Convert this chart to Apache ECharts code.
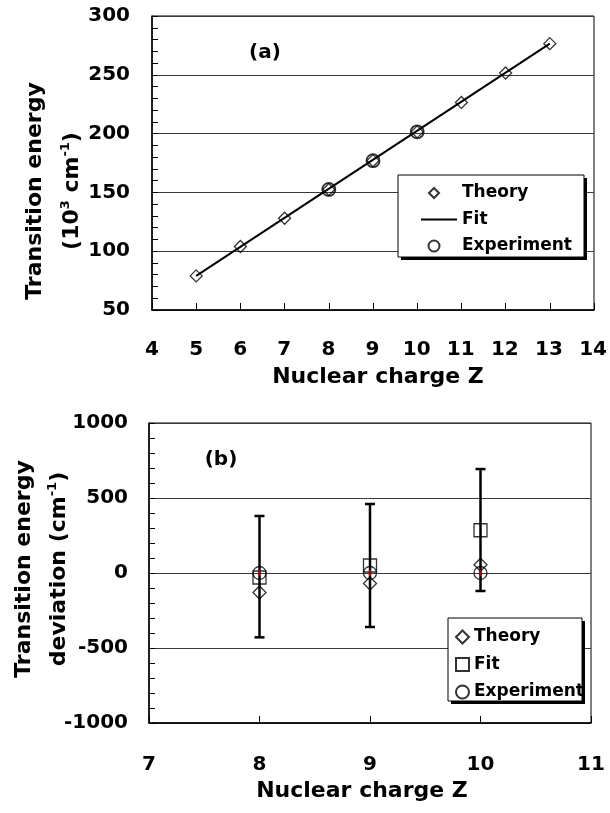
<!DOCTYPE html>
<html><head><meta charset="utf-8">
<script src="https://cdn.jsdelivr.net/npm/echarts@6/dist/echarts.min.js"></script>
<style>html,body{margin:0;padding:0;background:#fff}#a{width:610px;height:400px}#b{width:610px;height:413px}</style>
</head><body><div id="a"></div><div id="b"></div>
<script>
// ---- Panel (a) data ----
const zA = [5, 6, 7, 8, 9, 10, 11, 12, 13];
const theoryA = [79, 104, 128, 152.5, 177, 201.5, 226.5, 251.5, 276.5];
const fitAZ = [5, 13];
const fitA = [79, 276.5];
const expAZ = [8, 9, 10];
const expA = [152.5, 177, 201.5];
const xRangeA = [4, 14];
const yRangeA = [50, 300];

// ---- Panel (b) data ----
const zB = [8, 9, 10];
const theoryB = [-130, -70, 55];
const fitB = [-30, 50, 285];
const expB = [0, 0, 0];
const errLowB = [-429, -360, -120];
const errHighB = [380, 460, 693];
const xRangeB = [7, 11];
const yRangeB = [-1000, 1000];

const legendNames = ['Theory', 'Fit', 'Experiment'];

const F = 'DejaVu Sans';
const K = '#000';
const pairs = (xs, ys) => xs.map((x, i) => [x, ys[i]]);

const labelStyle = { color: K, fontFamily: F, fontWeight: 'bold', fontSize: 20,
  showMinLabel: true, showMaxLabel: true, hideOverlap: false, formatter: v => String(v) };

function xAxis(r, label, gi) {
  return {
    gridIndex: gi || 0, type: 'value', position: 'bottom', min: r[0], max: r[1], interval: 1,
    axisLine: { show: true, onZero: false, lineStyle: { color: K, width: 1.5 } },
    axisTick: { show: true, inside: true, length: 7, lineStyle: { color: K, width: 1 } },
    splitLine: { show: false },
    axisLabel: Object.assign({}, labelStyle, label)
  };
}
function yAxis(r, interval, margin) {
  return {
    type: 'value', min: r[0], max: r[1], interval: interval,
    axisLine: { show: true, onZero: false, lineStyle: { color: K, width: 1.5 } },
    axisTick: { show: true, inside: true, length: 6, lineStyle: { color: K, width: 1 } },
    minorTick: { show: true, splitNumber: 5, length: 6, lineStyle: { color: K, width: 1 } },
    splitLine: { show: true, lineStyle: { color: '#3a3a3a', width: 1 } },
    minorSplitLine: { show: false },
    axisLabel: Object.assign({ margin: margin }, labelStyle)
  };
}
const hollow = (w) => ({ color: 'transparent', borderColor: K, borderWidth: w });

function txt(x, y, text, size, rot) {
  return {
    type: 'text', x: x, y: y, rotation: rot || 0, z: 20,
    style: {
      text: text, fontFamily: F, fontWeight: 'bold', fontSize: size, fill: K,
      align: 'center', verticalAlign: 'middle',
      rich: {
        m: { fontFamily: F, fontWeight: 'bold', fontSize: size, lineHeight: 26, fill: K },
        s: { fontFamily: F, fontWeight: 'bold', fontSize: 13, lineHeight: 13, verticalAlign: 'top', fill: K }
      }
    }
  };
}
function box(x1, y1, x2, y2) {
  return [
    { type: 'rect', z: 5, shape: { x: x1 + 3, y: y1 + 3, width: x2 - x1, height: y2 - y1 }, style: { fill: K } },
    { type: 'rect', z: 6, shape: { x: x1, y: y1, width: x2 - x1, height: y2 - y1 }, style: { fill: '#fff', stroke: K, lineWidth: 1 } }
  ];
}
const legendText = { fontFamily: F, fontWeight: 'bold', fontSize: 17, color: K };

// ================= Panel (a) =================
const gridA = { left: 152, top: 16, width: 442, height: 294 };
const optionA = {
  animation: false,
  backgroundColor: '#fff',
  grid: [
    Object.assign({ show: true, borderColor: K, borderWidth: 1, backgroundColor: 'transparent' }, gridA),
    Object.assign({ show: false }, gridA)   // carries the x tick labels on the same x scale
  ],
  xAxis: [
    xAxis(xRangeA, { show: false }, 0),
    Object.assign(xAxis(xRangeA, { margin: 30 }, 1), { axisLine: { show: false, onZero: false }, axisTick: { show: false } })
  ],
  yAxis: [
    yAxis(yRangeA, 50, 22),
    { gridIndex: 1, type: 'value', min: -1, max: 1, show: false }
  ],
  legend: {
    data: [
      { name: 'Theory', icon: 'path://M0,0M36,12M13,1L18,6L13,11L8,6Z' },
      { name: 'Fit' },
      { name: 'Experiment', icon: 'path://M0,0M36,12M7.5,6A5.5,5.5 0 1 0 18.5,6A5.5,5.5 0 1 0 7.5,6Z' }
    ],
    orient: 'vertical', left: 420, top: 184.5, padding: 0,
    itemWidth: 36, itemHeight: 12, itemGap: 9.5, z: 10, selectedMode: false,
    textStyle: legendText
  },
  graphic: [].concat(box(398, 175, 584, 257), [
    txt(265, 53, '(a)', 20),
    txt(378, 377, 'Nuclear charge Z', 22),
    txt(35, 191, 'Transition energy', 22, Math.PI / 2),
    txt(72, 191, '{m|(10}{s|3}{m| cm}{s|-1}{m|)}', 22, Math.PI / 2)
  ]),
  series: [
    {
      name: 'Fit', type: 'line', xAxisIndex: 0, yAxisIndex: 0, data: pairs(fitAZ, fitA),
      symbol: 'none', lineStyle: { color: K, width: 2 }, itemStyle: { color: 'transparent', borderWidth: 0 }, z: 2
    },
    {
      name: 'Theory', type: 'scatter', xAxisIndex: 0, yAxisIndex: 0, data: pairs(zA, theoryA),
      symbol: 'diamond', symbolSize: 12, itemStyle: hollow(1.3), z: 3
    },
    {
      name: 'Experiment', type: 'scatter', xAxisIndex: 0, yAxisIndex: 0, data: pairs(expAZ, expA),
      symbol: 'circle', symbolSize: 13, itemStyle: hollow(1.8), z: 3
    }
  ]
};

// ================= Panel (b) =================
const optionB = {
  animation: false,
  backgroundColor: '#fff',
  grid: { left: 149, top: 23, width: 442, height: 300, show: true, borderColor: K, borderWidth: 1,
          backgroundColor: 'transparent' },
  xAxis: xAxis(xRangeB, { margin: 32 }),
  yAxis: yAxis(yRangeB, 500, 21),
  legend: {
    data: legendNames, orient: 'vertical', left: 455, top: 228.5, padding: 0,
    itemWidth: 13, itemHeight: 13, itemGap: 10.5, z: 10, selectedMode: false,
    textStyle: legendText
  },
  graphic: [].concat(box(448, 218, 582, 301), [
    txt(221, 60, '(b)', 20),
    txt(362, 391, 'Nuclear charge Z', 22),
    txt(24, 169, 'Transition energy', 22, Math.PI / 2),
    txt(59, 169, '{m|deviation (cm}{s|-1}{m|)}', 22, Math.PI / 2)
  ]),
  series: [
    {
      name: 'errbars', type: 'custom',
      data: zB.map((z, i) => [z, errLowB[i], errHighB[i]]),
      encode: { x: 0, y: [1, 2] }, z: 2,
      renderItem: function (params, api) {
        const x = api.value(0);
        const lo = api.coord([x, api.value(1)]);
        const hi = api.coord([x, api.value(2)]);
        const w = 5, st = { stroke: K, lineWidth: 2.5 };
        return {
          type: 'group', children: [
            { type: 'line', shape: { x1: lo[0], y1: lo[1], x2: hi[0], y2: hi[1] }, style: st },
            { type: 'line', shape: { x1: lo[0] - w, y1: lo[1], x2: lo[0] + w, y2: lo[1] }, style: st },
            { type: 'line', shape: { x1: hi[0] - w, y1: hi[1], x2: hi[0] + w, y2: hi[1] }, style: st }
          ]
        };
      }
    },
    {
      name: 'Theory', type: 'scatter', data: pairs(zB, theoryB),
      symbol: 'diamond', symbolSize: 13, itemStyle: hollow(1.3), z: 3
    },
    {
      name: 'Fit', type: 'scatter', data: pairs(zB, fitB),
      symbol: 'rect', symbolSize: 13, itemStyle: hollow(1.3), z: 3
    },
    {
      name: 'Experiment', type: 'scatter', data: pairs(zB, expB),
      symbol: 'circle', symbolSize: 13, itemStyle: hollow(1.3), z: 3
    },
    {
      name: 'expdot', type: 'scatter', data: pairs(zB, expB),
      symbol: 'rect', symbolSize: [2, 6], itemStyle: { color: '#e00000' }, z: 4, silent: true
    }
  ]
};

echarts.init(document.getElementById('a')).setOption(optionA);
echarts.init(document.getElementById('b')).setOption(optionB);
</script></body></html>
